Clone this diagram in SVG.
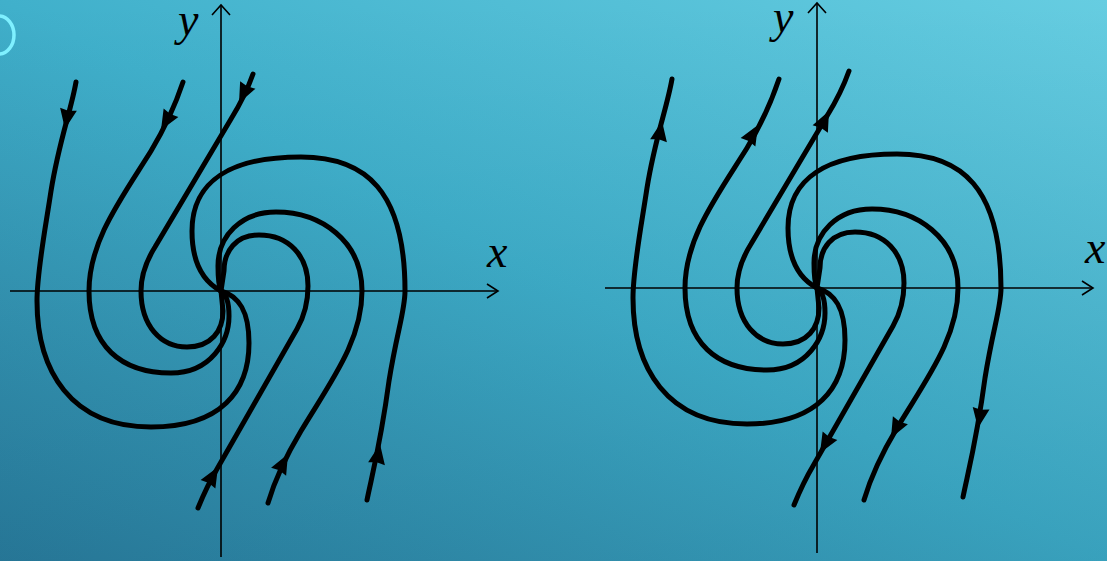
<svg xmlns="http://www.w3.org/2000/svg" xmlns:xlink="http://www.w3.org/1999/xlink" width="1107" height="561" viewBox="0 0 1107 561">
<defs>
<linearGradient id="bg" x1="0" y1="1" x2="1" y2="0">
<stop offset="0" stop-color="#2b7f9f"/>
<stop offset="0.5" stop-color="#40b0cb"/>
<stop offset="1" stop-color="#66cde1"/>
</linearGradient>
<linearGradient id="shade" x1="0" y1="0" x2="0" y2="1">
<stop offset="0" stop-color="#003050" stop-opacity="0"/>
<stop offset="1" stop-color="#003050" stop-opacity="0.12"/>
</linearGradient>
<style>
.traj{fill:none;stroke:#000;stroke-width:5;stroke-linecap:round;stroke-linejoin:round}
.axis{fill:none;stroke:#000;stroke-width:1.6}
.lbl{font-family:"Liberation Serif",serif;font-style:italic;font-size:46px;fill:#000}
.ah{fill:#000}
</style>
<path id="ah" class="ah" d="M0,0 L-20,-8.5 L-18.5,0 L-20,8.5 Z"/>
<g id="flow">
<path class="traj" d="M-145,-209 C-150,-180 -162,-150 -170,-100 C-176,-60 -184,-20 -184,10 C-184,80 -150,136 -70,136 C0,136 28,100 28,52 C28,20 18,5 0,0"/>
<path class="traj" d="M-38,-209 C-46,-185 -55,-165 -70,-140 C-100,-92 -132,-50 -132,0 C-132,55 -100,82 -50,82 C-10,82 8,50 8,25 C8,10 5,3 0,0"/>
<path class="traj" d="M32,-217 C26,-200 18,-185 10,-172 L-66,-44 C-76,-28 -80,-15 -80,0 C-80,35 -60,56 -34,56 C-10,56 2,40 2,20 L0,0"/>
<path class="traj" d="M146,209 C152,180 160,150 168,90 C176,40 184,20 184,0 C184,-100 145,-134 80,-134 C10,-134 -29,-110 -29,-60 C-29,-25 -15,-8 0,0"/>
<path class="traj" d="M47,212 C55,185 65,165 80,140 C110,90 141,50 141,0 C141,-50 100,-79 55,-79 C20,-79 -3,-55 -3,-25 C-3,-10 -2,-4 0,0"/>
<path class="traj" d="M-23,217 C-16,200 -10,188 -4,178 L76,38 C84,24 87,12 87,-5 C87,-35 68,-56 38,-56 C15,-56 3,-40 3,-20 L0,0"/>
</g>
</defs>
<rect width="1107" height="561" fill="url(#bg)"/>
<rect width="1107" height="561" fill="url(#shade)"/>
<ellipse cx="-1" cy="35" rx="15" ry="19" fill="none" stroke="#7ff0ff" stroke-width="3.5"/>

<g id="left-portrait">
<g id="left-axes">
<line class="axis" x1="10" y1="291" x2="498" y2="291"/>
<path class="axis" d="M487,284 L498,291 L487,298"/>
<line class="axis" x1="221" y1="557" x2="221" y2="5"/>
<path class="axis" d="M212,15 L221,5 L230,15"/>
<text class="lbl" x="178" y="35">y</text>
<text class="lbl" x="487" y="267">x</text>
</g>
<g id="left-trajectories">
<use xlink:href="#flow" href="#flow" transform="translate(221,291)"/>
</g>
<g id="left-arrows" transform="translate(221,291)">
<use xlink:href="#ah" href="#ah" transform="translate(-156,-162) rotate(100)"/>
<use xlink:href="#ah" href="#ah" transform="translate(-60,-161) rotate(120)"/>
<use xlink:href="#ah" href="#ah" transform="translate(18,-188) rotate(116)"/>
<use xlink:href="#ah" href="#ah" transform="translate(159,153) rotate(-80)"/>
<use xlink:href="#ah" href="#ah" transform="translate(67,163) rotate(-62)"/>
<use xlink:href="#ah" href="#ah" transform="translate(-3,176) rotate(-60)"/>
</g>
</g>

<g id="right-portrait">
<g id="right-axes">
<line class="axis" x1="605" y1="288" x2="1093" y2="288"/>
<path class="axis" d="M1082,281 L1093,288 L1082,295"/>
<line class="axis" x1="817" y1="553" x2="817" y2="3"/>
<path class="axis" d="M808,13 L817,3 L826,13"/>
<text class="lbl" x="773" y="32">y</text>
<text class="lbl" x="1085" y="263">x</text>
</g>
<g id="right-trajectories">
<use xlink:href="#flow" href="#flow" transform="translate(817,288)"/>
</g>
<g id="right-arrows" transform="translate(817,288)">
<use xlink:href="#ah" href="#ah" transform="translate(-155,-167) rotate(-80)"/>
<use xlink:href="#ah" href="#ah" transform="translate(-59,-163) rotate(-60)"/>
<use xlink:href="#ah" href="#ah" transform="translate(12,-177) rotate(-64)"/>
<use xlink:href="#ah" href="#ah" transform="translate(161,140) rotate(99)"/>
<use xlink:href="#ah" href="#ah" transform="translate(74,150) rotate(118)"/>
<use xlink:href="#ah" href="#ah" transform="translate(3,165) rotate(120)"/>
</g>
</g>
</svg>
